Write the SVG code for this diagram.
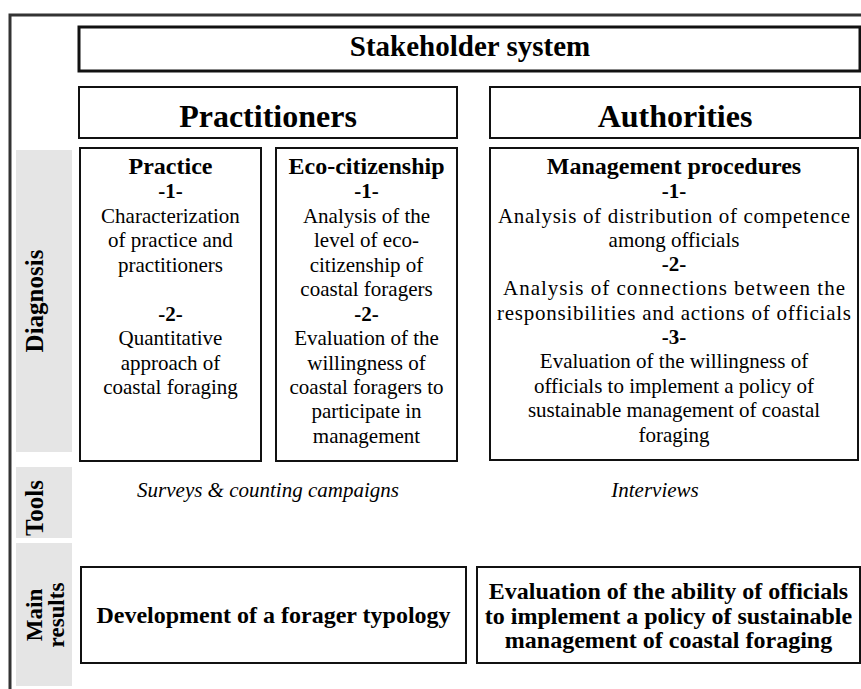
<svg xmlns="http://www.w3.org/2000/svg" width="861" height="689" viewBox="0 0 861 689">
<style>
.box{fill:#fff;stroke:#111;stroke-width:2}
.thick{stroke-width:3}
.lab{fill:#e5e5e5}
text{fill:#000;text-anchor:middle}
.b{font-weight:bold}
.h1{font-size:29px;font-weight:bold}
.h2{font-size:32px;font-weight:bold}
.h3{font-size:24px;font-weight:bold}
.t{font-size:21px}
.i{font-size:21px;font-style:italic}
.side{font-size:25px;font-weight:bold}
.side2{font-size:23px;font-weight:bold}
</style>
<rect width="861" height="689" fill="#fff"/>
<g id="diagram" font-family="Liberation Serif, serif">
<g id="frame">
<path d="M10,689 V15 H861" fill="none" stroke="#333" stroke-width="3"/>
</g>
<g id="labels">
<rect class="lab" x="16" y="150" width="56" height="302"/>
<rect class="lab" x="16" y="467" width="56" height="71"/>
<rect class="lab" x="16" y="543" width="56" height="143"/>
<text class="side" transform="translate(43,301) rotate(-90)">Diagnosis</text>
<text class="side" transform="translate(43,508) rotate(-90)">Tools</text>
<text class="side2" transform="translate(42,615) rotate(-90)">Main</text>
<text class="side2" transform="translate(64,615) rotate(-90)">results</text>
</g>
<g id="stakeholder">
<rect class="box thick" x="79" y="27" width="781" height="44"/>
<text class="h1" x="470" y="56">Stakeholder system</text>
</g>
<g id="practitioners">
<rect class="box" x="79" y="87" width="378" height="51"/>
<text class="h2" x="268" y="127">Practitioners</text>
</g>
<g id="authorities">
<rect class="box" x="490" y="87" width="370" height="51"/>
<text class="h2" x="675" y="127">Authorities</text>
</g>
<g id="practice">
<rect class="box" x="80" y="148" width="181" height="313"/>
<text class="h3" x="170.5" y="174">Practice</text>
<text class="t b" x="170.5" y="198">-1-</text>
<text class="t" x="170.5" y="223">Characterization</text>
<text class="t" x="170.5" y="247">of practice and</text>
<text class="t" x="170.5" y="272">practitioners</text>
<text class="t b" x="170.5" y="321">-2-</text>
<text class="t" x="170.5" y="345">Quantitative</text>
<text class="t" x="170.5" y="370">approach of</text>
<text class="t" x="170.5" y="394">coastal foraging</text>
</g>
<g id="eco">
<rect class="box" x="276" y="148" width="181" height="313"/>
<text class="h3" x="366.5" y="174">Eco-citizenship</text>
<text class="t b" x="366.5" y="198">-1-</text>
<text class="t" x="366.5" y="223">Analysis of the</text>
<text class="t" x="366.5" y="247">level of eco-</text>
<text class="t" x="366.5" y="272">citizenship of</text>
<text class="t" x="366.5" y="296">coastal foragers</text>
<text class="t b" x="366.5" y="321">-2-</text>
<text class="t" x="366.5" y="345">Evaluation of the</text>
<text class="t" x="366.5" y="370">willingness of</text>
<text class="t" x="366.5" y="394">coastal foragers to</text>
<text class="t" x="366.5" y="418">participate in</text>
<text class="t" x="366.5" y="443">management</text>
</g>
<g id="management">
<rect class="box" x="490" y="148" width="368" height="312"/>
<text class="h3" x="674" y="174">Management procedures</text>
<text class="t b" x="674" y="198">-1-</text>
<text class="t" x="674" y="223" textLength="352">Analysis of distribution of competence</text>
<text class="t" x="674" y="247">among officials</text>
<text class="t b" x="674" y="271">-2-</text>
<text class="t" x="674" y="295" textLength="342">Analysis of connections between the</text>
<text class="t" x="674" y="320" textLength="354">responsibilities and actions of officials</text>
<text class="t b" x="674" y="344">-3-</text>
<text class="t" x="674" y="368">Evaluation of the willingness of</text>
<text class="t" x="674" y="393">officials to implement a policy of</text>
<text class="t" x="674" y="417">sustainable management of coastal</text>
<text class="t" x="674" y="442">foraging</text>
</g>
<g id="tools">
<text class="i" x="268" y="497">Surveys &amp; counting campaigns</text>
<text class="i" x="655" y="497">Interviews</text>
</g>
<g id="typology">
<rect class="box" x="81" y="567" width="385" height="96"/>
<text class="h3" x="273.5" y="623">Development of a forager typology</text>
</g>
<g id="ability">
<rect class="box" x="477" y="567" width="383" height="96"/>
<text class="h3" x="668.5" y="599">Evaluation of the ability of officials</text>
<text class="h3" x="668.5" y="624">to implement a policy of sustainable</text>
<text class="h3" x="668.5" y="648">management of coastal foraging</text>
</g>
<g id="connectors"></g>
</g>
</svg>
